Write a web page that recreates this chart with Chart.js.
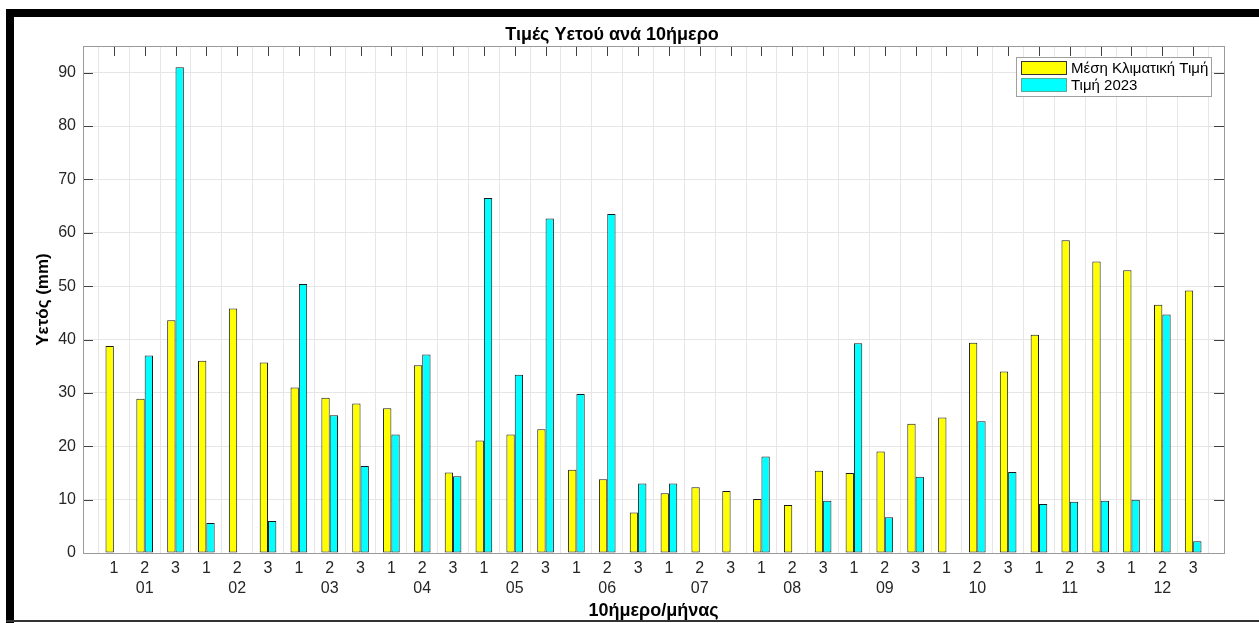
<!DOCTYPE html>
<html>
<head>
<meta charset="utf-8">
<script src="https://cdn.jsdelivr.net/npm/chart.js@4/dist/chart.umd.min.js"></script>
<style>
  html, body { margin: 0; padding: 0; background: #fff; }
  #wrap { position: relative; width: 1259px; height: 623px; }
</style>
</head>
<body>
<div id="wrap"><canvas id="chart"></canvas></div>
<script>
// Rainfall per 10-day period (dekad), mm
const dekads = ['1', '2', '3'];
const months = ['01', '02', '03', '04', '05', '06', '07', '08', '09', '10', '11', '12'];
const yTicks = [0, 10, 20, 30, 40, 50, 60, 70, 80, 90];

const climateMean = [
    38.8, 28.9, 43.6,  36.0, 45.8, 35.7,  31.0, 29.1, 28.0,
    27.1, 35.2, 15.1,  21.1, 22.2, 23.2,  15.6, 13.8, 7.6,
    11.2, 12.3, 11.6,  10.1, 9.0, 15.4,   15.0, 19.0, 24.2,
    25.4, 39.4, 34.0,  40.9, 58.6, 54.6,  53.0, 46.5, 49.2
];
const value2023 = [
    0, 37.0, 91.0,     5.6, 0.1, 6.0,     50.4, 25.8, 16.3,
    22.2, 37.2, 14.4,  66.5, 33.4, 62.7,  29.8, 63.5, 13.0,
    13.0, 0, 0,        18.1, 0, 9.8,      39.3, 6.7, 14.3,
    0.1, 24.7, 15.2,   9.2, 9.6, 9.8,     10.0, 44.7, 2.2
];

const seriesLabels = ['Μέση Κλιματική Τιμή', 'Τιμή 2023'];
const seriesColors = ['#ffff00', '#00ffff'];

const FONT = "'Liberation Sans', Arial, Helvetica, sans-serif";
const TEXT = '#262626';

// x positions 1..36, axis runs 0..37 like the original figure
const toPoints = arr => arr.map((v, i) => ({ x: i + 1, y: v }));

// Frame, box, inward tick marks and legend
const figurePlugin = {
    id: 'figure',
    beforeDraw(chart) {
        const ctx = chart.ctx;
        ctx.save();
        ctx.fillStyle = '#fff';
        ctx.fillRect(0, 0, chart.width, chart.height);
        ctx.fillStyle = '#000';
        ctx.fillRect(6, 9, chart.width - 6, 8);
        ctx.fillRect(6, 9, 8, chart.height - 9);
        ctx.fillStyle = '#333';
        ctx.fillRect(6, chart.height - 3, chart.width - 6, 2);
        ctx.restore();
    },
    afterDatasetsDraw(chart) {
        const ctx = chart.ctx;
        const a = chart.chartArea;
        const xs = chart.scales.x, ys = chart.scales.y;
        const len = 10;
        ctx.save();
        ctx.strokeStyle = '#404040';
        ctx.lineWidth = 1;
        ctx.beginPath();
        xs.ticks.forEach(t => {
            const px = Math.round(xs.getPixelForValue(t.value)) + 0.5;
            ctx.moveTo(px, a.top);
            ctx.lineTo(px, a.top + len);
        });
        yTicks.forEach(v => {
            if (v === 0) return;
            const py = Math.round(ys.getPixelForValue(v)) + 0.5;
            ctx.moveTo(a.left, py);
            ctx.lineTo(a.left + len, py);
            ctx.moveTo(a.right, py);
            ctx.lineTo(a.right - len, py);
        });
        ctx.stroke();
        ctx.strokeStyle = '#9a9a9a';
        ctx.strokeRect(Math.round(a.left) + 0.5, Math.round(a.top) + 0.5,
            Math.round(a.right - a.left), Math.round(a.bottom - a.top));

        // legend box
        const lx = 1016, ly = 57, lw = 195, lh = 39;
        ctx.fillStyle = '#fff';
        ctx.fillRect(lx, ly, lw, lh);
        ctx.strokeStyle = '#a0a0a0';
        ctx.strokeRect(lx + 0.5, ly + 0.5, lw, lh);
        ctx.font = '15px ' + FONT;
        ctx.textBaseline = 'middle';
        chart.data.datasets.forEach((ds, i) => {
            const sy = ly + 4 + i * 17;
            ctx.fillStyle = ds.backgroundColor;
            ctx.fillRect(lx + 5, sy, 46, 14);
            ctx.strokeStyle = i === 0 ? '#333' : '#5a9';
            ctx.strokeRect(lx + 5.5, sy + 0.5, 45, 13);
            ctx.fillStyle = '#000';
            ctx.fillText(ds.label, lx + 55, sy + 8);
        });
        ctx.restore();
    }
};

new Chart(document.getElementById('chart'), {
    type: 'bar',
    data: {
        datasets: [0, 1].map(i => ({
            label: seriesLabels[i],
            data: toPoints(i === 0 ? climateMean : value2023),
            backgroundColor: seriesColors[i],
            borderColor: '#1a1a1a',
            borderWidth: 1,
            borderSkipped: false,
            categoryPercentage: 0.54,
            barPercentage: 1.0
        }))
    },
    options: {
        responsive: true,
        maintainAspectRatio: false,
        animation: false,
        layout: { padding: { left: 0, right: 35, top: 0, bottom: 0 } },
        plugins: {
            legend: { display: false },
            tooltip: { enabled: false },
            title: {
                display: true,
                text: 'Τιμές Υετού ανά 10ήμερο',
                color: '#000',
                font: { family: FONT, size: 18, weight: 'bold' },
                padding: { top: 24, bottom: 0.4 }
            }
        },
        scales: {
            x: {
                type: 'linear',
                min: 0,
                max: 37,
                offset: false,
                afterBuildTicks(scale) {
                    scale.ticks = climateMean.map((v, i) => ({ value: i + 1 }));
                },
                afterFit(scale) { scale.height = 70; },
                grid: { color: '#e6e6e6', drawTicks: false },
                border: { display: false },
                ticks: {
                    autoSkip: false,
                    maxRotation: 0,
                    padding: 6,
                    color: TEXT,
                    font: { family: FONT, size: 16, lineHeight: 1.25 },
                    callback(value) {
                        const i = Math.round(value) - 1;
                        const d = dekads[i % 3];
                        return i % 3 === 1 ? [d, months[Math.floor(i / 3)]] : d;
                    }
                },
                title: {
                    display: true,
                    text: '10ήμερο/μήνας',
                    color: '#000',
                    font: { family: FONT, size: 18, weight: 'bold' },
                    padding: { top: 0, bottom: 1.2 }
                }
            },
            y: {
                min: 0,
                max: 95,
                afterFit(scale) { scale.width = 83; },
                afterBuildTicks(scale) {
                    scale.ticks = yTicks.map(v => ({ value: v }));
                },
                grid: { color: '#e6e6e6', drawTicks: false },
                border: { display: false },
                ticks: {
                    padding: 7,
                    color: TEXT,
                    font: { family: FONT, size: 16 }
                },
                title: {
                    display: true,
                    text: 'Υετός (mm)',
                    color: '#000',
                    font: { family: FONT, size: 17, weight: 'bold' },
                    padding: { top: 32.8, bottom: 0 }
                }
            }
        }
    },
    plugins: [figurePlugin]
});
</script>
</body>
</html>
